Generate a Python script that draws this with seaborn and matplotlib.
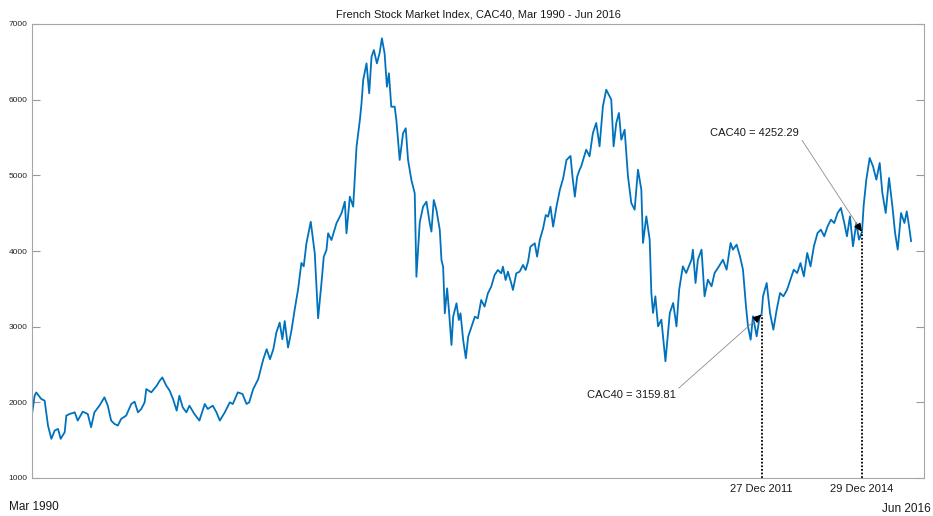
import numpy as np
import pandas as pd
import matplotlib
matplotlib.use('Agg')
import matplotlib.pyplot as plt
import seaborn as sns

# CAC40 index (time as decimal year)
year_frac = [
    1990.17, 1990.24, 1990.29, 1990.44, 1990.54, 1990.64, 1990.74, 1990.84, 1990.94, 1991.02,
    1991.14, 1991.19, 1991.29, 1991.44, 1991.53, 1991.68, 1991.83, 1991.93, 1992.03, 1992.18,
    1992.33, 1992.43, 1992.53, 1992.63, 1992.73, 1992.83, 1992.98, 1993.13, 1993.23, 1993.33,
    1993.43, 1993.53, 1993.58, 1993.73, 1993.89, 1993.98, 1994.06, 1994.18, 1994.28, 1994.38,
    1994.49, 1994.57, 1994.67, 1994.78, 1994.87, 1995.02, 1995.17, 1995.33, 1995.42, 1995.57,
    1995.68, 1995.78, 1995.93, 1996.08, 1996.17, 1996.32, 1996.46, 1996.58, 1996.66, 1996.78,
    1996.93, 1997.08, 1997.18, 1997.28, 1997.38, 1997.47, 1997.57, 1997.65, 1997.72, 1997.82,
    1997.92, 1998.02, 1998.12, 1998.22, 1998.29, 1998.37, 1998.50, 1998.62, 1998.72, 1998.82,
    1998.89, 1998.97, 1999.02, 1999.12, 1999.27, 1999.42, 1999.52, 1999.57, 1999.67, 1999.77,
    1999.87, 1999.97, 2000.02, 2000.07, 2000.17, 2000.25, 2000.32, 2000.39, 2000.48, 2000.56,
    2000.63, 2000.71, 2000.78, 2000.84, 2000.91, 2001.01, 2001.06, 2001.16, 2001.26, 2001.34,
    2001.41, 2001.51, 2001.61, 2001.66, 2001.76, 2001.86, 2001.96, 2002.06, 2002.11, 2002.18,
    2002.26, 2002.31, 2002.36, 2002.41, 2002.46, 2002.51, 2002.58, 2002.64, 2002.71, 2002.76,
    2002.86, 2002.93, 2002.98, 2003.06, 2003.14, 2003.21, 2003.31, 2003.41, 2003.50, 2003.60,
    2003.70, 2003.80, 2003.90, 2004.00, 2004.10, 2004.20, 2004.25, 2004.33, 2004.40, 2004.50,
    2004.55, 2004.65, 2004.75, 2004.85, 2004.93, 2005.00, 2005.07, 2005.20, 2005.27, 2005.35,
    2005.45, 2005.53, 2005.60, 2005.67, 2005.75, 2005.85, 2005.95, 2006.05, 2006.15, 2006.27,
    2006.33, 2006.40, 2006.47, 2006.54, 2006.59, 2006.74, 2006.84, 2006.94, 2007.04, 2007.14,
    2007.24, 2007.34, 2007.44, 2007.49, 2007.56, 2007.64, 2007.72, 2007.79, 2007.89, 2007.99,
    2008.09, 2008.19, 2008.29, 2008.39, 2008.44, 2008.54, 2008.64, 2008.69, 2008.74, 2008.81,
    2008.89, 2008.99, 2009.11, 2009.24, 2009.34, 2009.44, 2009.52, 2009.63, 2009.73, 2009.89,
    2009.93, 2010.01, 2010.08, 2010.19, 2010.28, 2010.38, 2010.49, 2010.58, 2010.71, 2010.83,
    2010.94, 2011.06, 2011.13, 2011.24, 2011.34, 2011.43, 2011.52, 2011.58, 2011.66, 2011.73,
    2011.84, 2011.93, 2011.986, 2012.03, 2012.14, 2012.24, 2012.34, 2012.44, 2012.54, 2012.64,
    2012.75, 2012.85, 2012.95, 2013.05, 2013.15, 2013.25, 2013.35, 2013.45, 2013.55, 2013.66,
    2013.76, 2013.86, 2013.96, 2014.06, 2014.16, 2014.26, 2014.36, 2014.46, 2014.54, 2014.63,
    2014.72, 2014.82, 2014.90, 2014.99, 2015.04, 2015.12, 2015.22, 2015.32, 2015.42, 2015.52,
    2015.60, 2015.70, 2015.80, 2015.90, 2015.98, 2016.06, 2016.16, 2016.26, 2016.33, 2016.40,
    2016.46,
]
cac40 = [
    1868, 2088, 2130, 2044, 2022, 1693, 1518, 1627, 1649, 1518,
    1605, 1825, 1846, 1868, 1759, 1877, 1846, 1671, 1868, 1956,
    2066, 1956, 1759, 1715, 1693, 1781, 1825, 1978, 2009, 1868,
    1912, 2000, 2175, 2132, 2219, 2285, 2329, 2219, 2154, 2044,
    1890, 2088, 1934, 1868, 1956, 1846, 1759, 1978, 1912, 1956,
    1868, 1759, 1868, 2000, 1978, 2132, 2110, 1978, 2000, 2175,
    2307, 2570, 2702, 2570, 2702, 2921, 3053, 2833, 3075, 2724,
    2943, 3228, 3491, 3842, 3798, 4100, 4387, 3970, 3111, 3573,
    3925, 4013, 4234, 4145, 4366, 4498, 4652, 4234, 4718, 4586,
    5378, 5731, 5952, 6260, 6480, 6084, 6568, 6656, 6480, 6612,
    6811, 6612, 6171, 6348, 5907, 5907, 5731, 5203, 5555, 5622,
    5203, 4938, 4762, 3660, 4380, 4586, 4652, 4366, 4256, 4674,
    4542, 4410, 4278, 3881, 3793, 3177, 3507, 3177, 2758, 3132,
    3309, 3088, 3177, 2824, 2582, 2868, 3000, 3132, 3110, 3353,
    3265, 3441, 3529, 3683, 3749, 3705, 3793, 3617, 3727, 3573,
    3485, 3705, 3727, 3815, 3749, 3859, 4057, 4102, 3926, 4146,
    4300, 4476, 4454, 4586, 4322, 4586, 4806, 4960, 5203, 5256,
    4982, 4718, 4982, 5071, 5119, 5339, 5251, 5559, 5692, 5383,
    5912, 6132, 6044, 6000, 5383, 5692, 5824, 5471, 5603, 4987,
    4634, 4546, 5075, 4811, 4106, 4458, 4150, 3445, 3181, 3401,
    3004, 3093, 2542, 3181, 3313, 3004, 3489, 3797, 3709, 3885,
    4018, 3577, 3885, 4018, 3401, 3621, 3533, 3709, 3797, 3885,
    3753, 4106, 4018, 4084, 3930, 3753, 3269, 3004, 2828, 3137,
    2872, 3137, 3159.81, 3401, 3577, 3181, 2960, 3225, 3445, 3401,
    3489, 3621, 3753, 3709, 3841, 3665, 3974, 3797, 4062, 4238,
    4282, 4194, 4326, 4414, 4370, 4502, 4568, 4370, 4194, 4458,
    4062, 4370, 4150, 4252.29, 4600, 4943, 5229, 5119, 4943, 5163,
    4767, 4502, 4965, 4590, 4238, 4018, 4502, 4370, 4524, 4326,
    4128,
]

# Marked data points
mark_dates = ['2011-12-27', '2014-12-29']
mark_values = [3159.81, 4252.29]
mark_labels = ['27 Dec 2011', '29 Dec 2014']


def frac_to_date(y):
    y = np.asarray(y, dtype=float)
    base = pd.to_datetime(np.floor(y).astype(int).astype(str) + '-01-01')
    return base + pd.to_timedelta((y % 1) * 365.25, unit='D')


df = pd.DataFrame({'date': frac_to_date(year_frac), 'cac40': cac40})
marks = pd.to_datetime(mark_dates)

sns.set_style('white')
plt.rcParams['font.family'] = ['Liberation Sans', 'DejaVu Sans']

fig = plt.figure(figsize=(9.33, 5.16), dpi=100)
ax = fig.add_axes([32 / 933, 1 - 478 / 516, (924 - 32) / 933, (478 - 24) / 516])

sns.lineplot(data=df, x='date', y='cac40', ax=ax, color='#0072BD', linewidth=1.3)

ax.set_xlim(pd.Timestamp('1990-03-01'), pd.Timestamp('2016-11-05'))
ax.set_ylim(1000, 7000)
ax.set_yticks(range(1000, 7001, 1000))
ax.set_xlabel('')
ax.set_ylabel('')
ax.yaxis.set_ticks_position('both')
ax.tick_params(axis='y', which='major', direction='in', length=5.5, width=0.8,
               color='#999999', labelsize=6, labelcolor='#262626',
               left=True, right=True, labelleft=True, labelright=False, pad=3)
ax.tick_params(axis='x', bottom=False, top=False, labelbottom=False)
for s in ax.spines.values():
    s.set_color('#a6a6a6')
    s.set_linewidth(0.8)
    s.set_visible(True)

ax.set_title('French Stock Market Index, CAC40, Mar 1990 - Jun 2016', fontsize=8,
             color='#1a1a1a', pad=4.5)

# dotted drop lines and date labels
ax.vlines(marks, 1000, mark_values, colors='black', linestyles=(0, (1, 1)), linewidth=1.3)
for d, lab in zip(marks, mark_labels):
    ax.annotate(lab, xy=(d, 1000), xytext=(0, -4), textcoords='offset points',
                ha='center', va='top', fontsize=8, color='#1a1a1a', annotation_clip=False)

# value callouts: grey leader line plus small black arrow head
callouts = [((-94, -58), (1.0, 0.9), (-4.4, -3.7)),
            ((-77.5, 71), (1.0, 0.3), (-3.2, 4.8))]
for d, v, (txt_off, rel, head_off) in zip(marks, mark_values, callouts):
    ax.annotate(f'CAC40 = {v:.2f}', xy=(d, v), xytext=txt_off, textcoords='offset points',
                ha='center', va='center', fontsize=8, color='#1a1a1a',
                arrowprops=dict(arrowstyle='-', color='#8c8c8c', lw=0.6,
                                shrinkA=0, shrinkB=0, relpos=rel))
    ax.annotate('', xy=(d, v), xytext=head_off, textcoords='offset points',
                arrowprops=dict(arrowstyle='-|>,head_length=0.5,head_width=0.22',
                                color='black', lw=0.8, shrinkA=0, shrinkB=0))

fig.text(9 / 933, 1 - 507 / 516, 'Mar 1990', ha='left', va='center', fontsize=8.5, color='#1a1a1a')
fig.text(931 / 933, 1 - 509 / 516, 'Jun 2016', ha='right', va='center', fontsize=8.5, color='#1a1a1a')

fig.savefig('out.png', dpi=100)
